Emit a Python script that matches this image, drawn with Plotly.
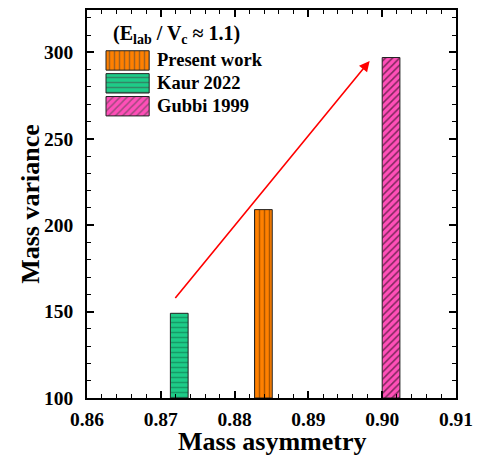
import plotly.graph_objects as go

# ---- data ----
series_names = ["Present work", "Kaur 2022", "Gubbi 1999"]
mass_asymmetry = [0.8839, 0.8725, 0.9012]
mass_variance = [209, 149, 297]
bar_width = 0.0024
arrow_start = (0.8718, 157)
arrow_end = (0.8983, 295)
legend_title = "(E<sub>lab</sub> / V<sub>c</sub> ≈ 1.1)"
x_title = "Mass asymmetry"
y_title = "Mass variance"
x_ticks = [0.86, 0.87, 0.88, 0.89, 0.90, 0.91]
x_tick_text = ["0.86", "0.87", "0.88", "0.89", "0.90", "0.91"]
y_ticks = [100, 150, 200, 250, 300]
y_tick_text = ["100", "150", "200", "250", "300"]

# ---- styles ----
colors = ["#FF8000", "#1ECC88", "#FF4FB8"]
pattern_shapes = ["|", "-", "/"]
pattern_fg = ["#5A2A00", "#0E6A46", "#000000"]
FONT = "Liberation Serif"

fig = go.Figure()
for name, xv, yv, c, ps, pf in zip(series_names, mass_asymmetry, mass_variance,
                                  colors, pattern_shapes, pattern_fg):
    fig.add_trace(go.Bar(
        x=[xv], y=[yv - 100], base=100, width=bar_width, name=name,
        marker=dict(color=c, line=dict(color="#222222", width=1),
                    pattern=dict(shape=ps, fgcolor=pf, bgcolor=c, size=5, solidity=0.3)),
        showlegend=False,
    ))

# custom legend swatches on an overlay axis (0..1 coordinates)
sw_left, sw_len = 0.0515, 0.117
row_y = [0.870, 0.811, 0.752]
sw_h = 0.050
fig.add_trace(go.Bar(
    y=row_y, x=[sw_len] * 3, base=[sw_left] * 3, orientation="h", width=sw_h,
    marker=dict(color=colors, line=dict(color="#222222", width=1),
                pattern=dict(shape=pattern_shapes, fgcolor=pattern_fg, bgcolor=colors,
                             size=5, solidity=0.3)),
    xaxis="x2", yaxis="y2", showlegend=False, hoverinfo="skip",
))
for name, ry in zip(series_names, row_y):
    fig.add_annotation(x=sw_left + sw_len + 0.015, y=ry, xref="x2", yref="y2",
                       text=name, showarrow=False,
                       xanchor="left", yanchor="middle",
                       font=dict(family=FONT, size=18.5, color="black", weight="bold"))
fig.add_annotation(x=0.065, y=0.936, xref="x2", yref="y2",
                   text=legend_title,
                   showarrow=False, xanchor="left", yanchor="middle",
                   font=dict(family=FONT, size=20, color="black", weight="bold"))

# axis titles
fig.add_annotation(x=0.5, y=-0.152, xref="paper", yref="paper", text=x_title,
                   showarrow=False, xanchor="center", yanchor="bottom", borderpad=0,
                   font=dict(family=FONT, size=26, color="black", weight="bold"))
fig.add_annotation(x=-0.155, y=0.5, xref="paper", yref="paper", text=y_title,
                   showarrow=False, xanchor="center", yanchor="middle", textangle=-90,
                   font=dict(family=FONT, size=26, color="black", weight="bold"))

# arrow
fig.add_annotation(x=arrow_end[0], y=arrow_end[1], ax=arrow_start[0], ay=arrow_start[1],
                   xref="x", yref="y", axref="x", ayref="y", text="",
                   showarrow=True, arrowhead=2, arrowsize=1.3, arrowwidth=1.6,
                   arrowcolor="#FF0000")

axis_common = dict(
    showline=True, linecolor="black", linewidth=1.5, mirror="allticks",
    ticks="inside", ticklen=7, tickwidth=1.5, tickcolor="black",
    showgrid=False, zeroline=False, automargin=False,
    tickfont=dict(family=FONT, size=19.5, color="black", weight="bold"),
)
fig.update_layout(
    width=483, height=459,
    margin=dict(l=87, r=27, t=10, b=61),
    plot_bgcolor="white", paper_bgcolor="white",
    barmode="overlay",
    xaxis=dict(range=[0.86, 0.91], tickvals=x_ticks, ticktext=x_tick_text,
               ticklabelstandoff=3,
               minor=dict(ticks="inside", dtick=0.002, ticklen=4, tickwidth=1.2,
                          tickcolor="black", showgrid=False),
               **axis_common),
    yaxis=dict(range=[100, 324.5], tickvals=y_ticks, ticktext=y_tick_text,
               ticklabelstandoff=8,
               minor=dict(ticks="inside", dtick=10, ticklen=4, tickwidth=1.2,
                          tickcolor="black", showgrid=False),
               **axis_common),
    xaxis2=dict(overlaying="x", anchor="y2", range=[0, 1], visible=False, fixedrange=True),
    yaxis2=dict(overlaying="y", anchor="x2", range=[0, 1], visible=False, fixedrange=True),
    font=dict(family=FONT, color="black"),
)

fig.write_html("out.html")
